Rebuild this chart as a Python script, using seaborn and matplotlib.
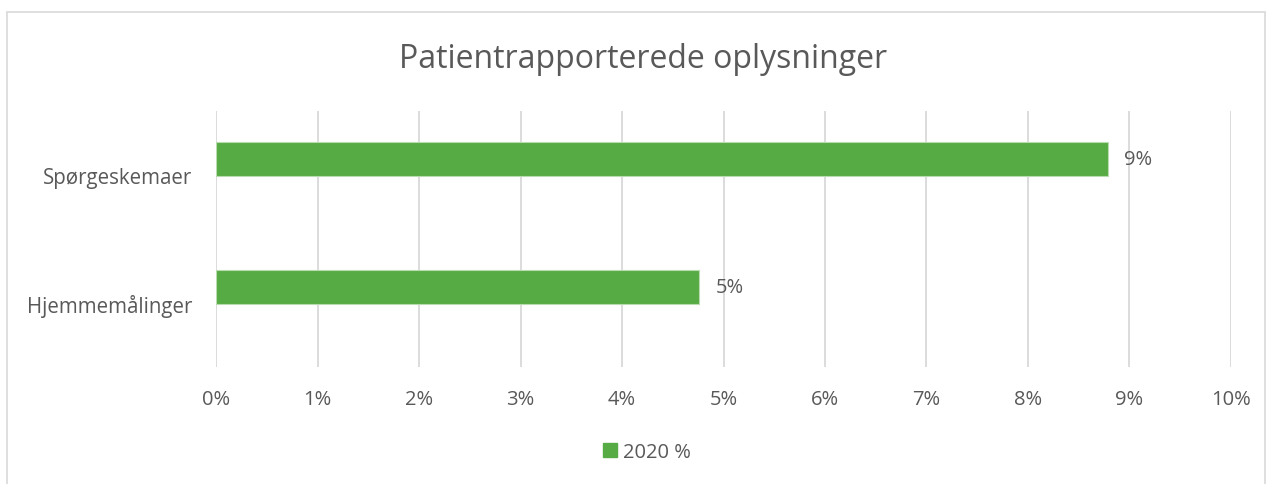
import pandas as pd
import matplotlib.pyplot as plt
import seaborn as sns
from matplotlib.patches import Rectangle, Patch

categories = ['Spørgeskemaer', 'Hjemmemålinger']
values = [8.79, 4.76]
value_labels = ['9%', '5%']
series_name = '2020 %'
ticks = list(range(0, 11))
tick_labels = [f'{t}%' for t in ticks]

df = pd.DataFrame({'kategori': categories, 'andel': values})

sns.set_theme(style='white')
plt.rcParams['font.family'] = ['Open Sans', 'DejaVu Sans']

green = '#57ab45'
grey_text = '#595959'

fig = plt.figure(figsize=(12.71, 4.85), dpi=100)
ax = fig.add_axes([0.170, 0.241, 0.7985, 0.528])

sns.barplot(data=df, x='andel', y='kategori', color=green, width=0.26,
            saturation=1, ax=ax, edgecolor='#b8dcb0', linewidth=0.8)

ax.set_xlim(0, 10)
# bars sit a bit above the band centre, like an Excel chart with an empty 2nd series;
# the category labels stay at the band centre
ax.set_ylim(1.625, -0.375)
ax.set_yticks([i + 0.125 for i in range(len(categories))])
ax.set_yticklabels(categories)
ax.set_xticks(ticks)
ax.set_xticklabels(tick_labels, fontsize=14.5, color=grey_text)
ax.tick_params(axis='y', labelsize=14.8, labelcolor=grey_text, length=0, pad=17)
ax.tick_params(axis='x', length=0, pad=16)
ax.set_xlabel('')
ax.set_ylabel('')
ax.grid(axis='x', color='#d9d9d9', linewidth=1.3)
ax.grid(axis='y', visible=False)
ax.set_axisbelow(True)
for s in ax.spines.values():
    s.set_visible(False)

for i, (v, lab) in enumerate(zip(values, value_labels)):
    ax.text(v + 0.16, i, lab, va='center', ha='left', fontsize=14.5, color=grey_text)

fig.text(0.506, 0.877, 'Patientrapporterede oplysninger', ha='center', va='center',
         fontsize=23, color=grey_text)

fig.legend(handles=[Patch(color=green, label=series_name)], loc='center',
           bbox_to_anchor=(0.509, 0.066), frameon=False, fontsize=14.5,
           labelcolor=grey_text, handlelength=0.7, handleheight=0.7, handletextpad=0.3)

fig.patches.append(Rectangle((7 / 1271, -0.01), 1258 / 1271, 1 - 13 / 485 + 0.01,
                             transform=fig.transFigure, fill=False,
                             edgecolor='#d9d9d9', linewidth=1.2))

fig.savefig('out.png', dpi=100)
